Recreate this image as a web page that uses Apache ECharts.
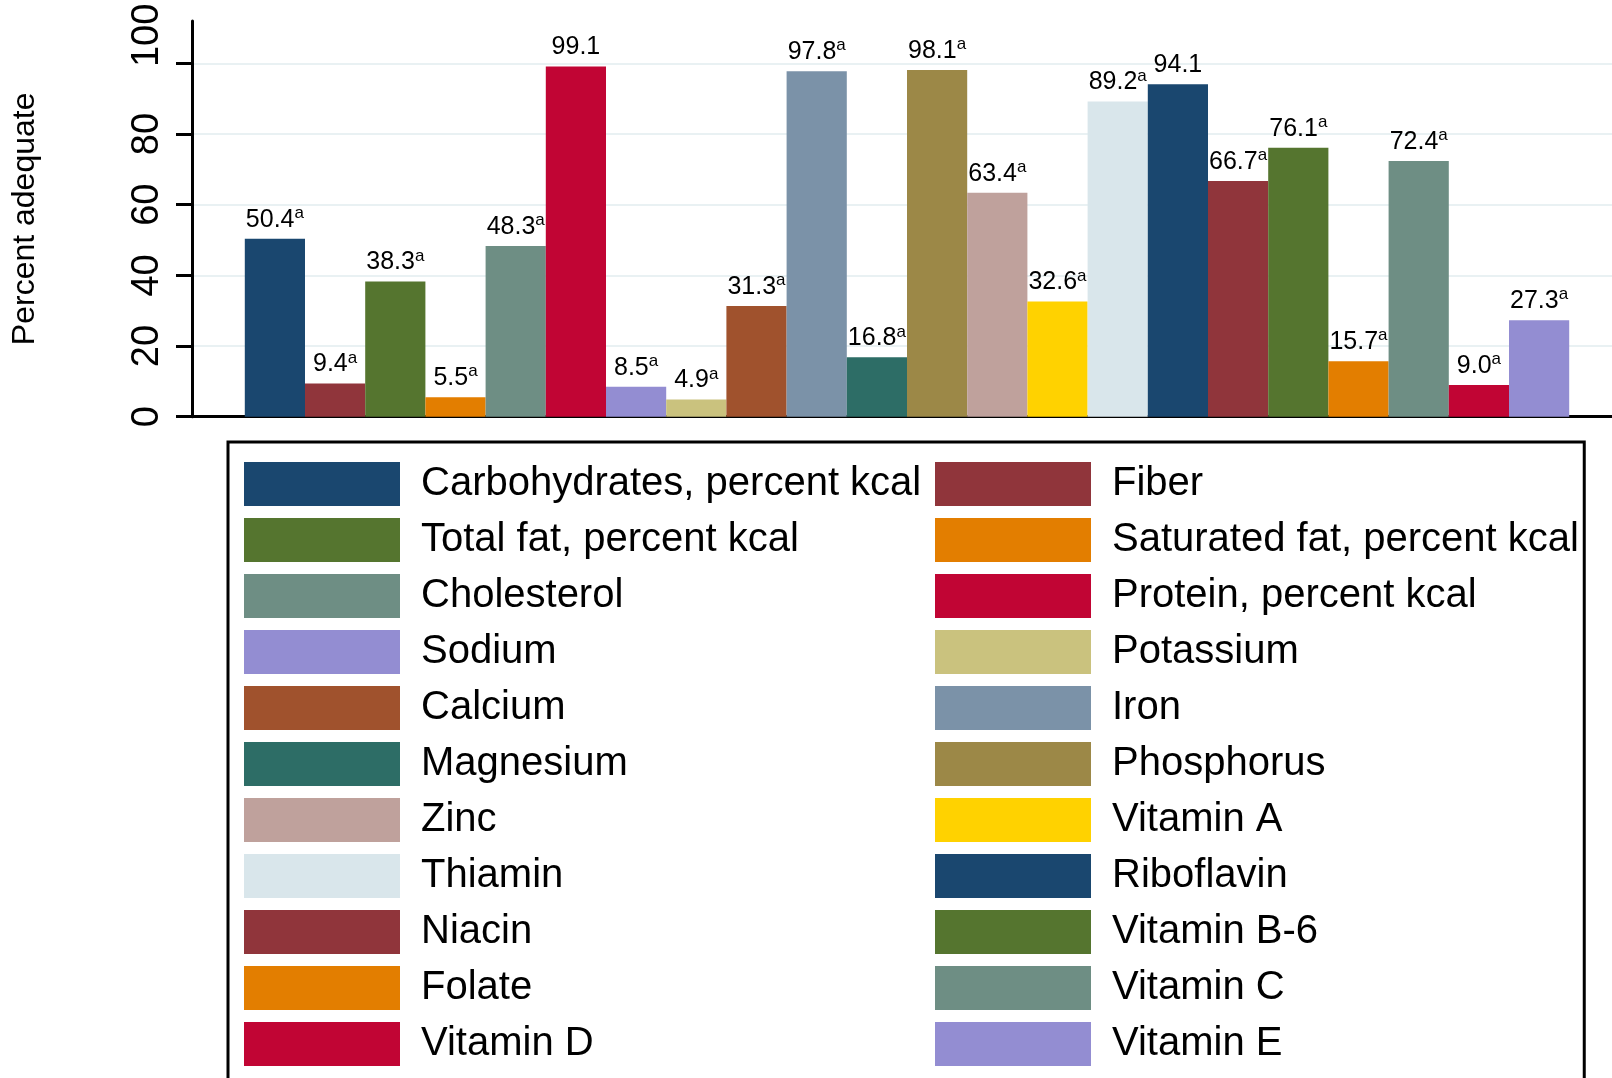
<!DOCTYPE html>
<html>
<head>
<meta charset="utf-8">
<script src="https://cdn.jsdelivr.net/npm/echarts@6/dist/echarts.min.js"></script>
<style>
  html, body { margin: 0; padding: 0; background: #fff; }
  #chart { width: 1612px; height: 1078px; }
</style>
</head>
<body>
<div id="chart"></div>
<script>
// nutrients, in bar order (left to right)
var nutrients = [
  'Carbohydrates, percent kcal', 'Fiber', 'Total fat, percent kcal',
  'Saturated fat, percent kcal', 'Cholesterol', 'Protein, percent kcal',
  'Sodium', 'Potassium', 'Calcium', 'Iron', 'Magnesium', 'Phosphorus',
  'Zinc', 'Vitamin A', 'Thiamin', 'Riboflavin', 'Niacin', 'Vitamin B-6',
  'Folate', 'Vitamin C', 'Vitamin D', 'Vitamin E'
];
var percentAdequate = [
  50.4, 9.4, 38.3, 5.5, 48.3, 99.1, 8.5, 4.9, 31.3, 97.8, 16.8,
  98.1, 63.4, 32.6, 89.2, 94.1, 66.7, 76.1, 15.7, 72.4, 9.0, 27.3
];
// superscript footnote on each label
var footnotes = [
  'a', 'a', 'a', 'a', 'a', '', 'a', 'a', 'a', 'a', 'a',
  'a', 'a', 'a', 'a', '', 'a', 'a', 'a', 'a', 'a', 'a'
];
var yTicks = [0, 20, 40, 60, 80, 100];

// stata s2color palette
var colors = [
  '#1a476f', '#90353b', '#55752f', '#e37e00', '#6e8e84', '#c10534',
  '#938dd2', '#cac27e', '#a0522d', '#7b92a8', '#2d6d66', '#9c8847',
  '#bfa19c', '#ffd200', '#d9e6eb',
  '#1a476f', '#90353b', '#55752f', '#e37e00', '#6e8e84', '#c10534', '#938dd2'
];

var font = 'Liberation Sans, Arial, Helvetica, sans-serif';
var chart = echarts.init(document.getElementById('chart'));

var series = nutrients.map(function (name, i) {
  return {
    type: 'bar',
    name: name,
    data: [percentAdequate[i]],
    barWidth: 60.2,
    barGap: '0%',
    itemStyle: { color: colors[i] },
    label: {
      show: true,
      position: 'top',
      distance: 4,
      fontFamily: font,
      formatter: function (p) {
        var t = '{v|' + p.value.toFixed(1) + '}';
        if (footnotes[i]) t += '{s|' + footnotes[i] + '}';
        return t;
      },
      rich: {
        v: { fontSize: 25, color: '#000', fontFamily: font, lineHeight: 30 },
        s: { fontSize: 17, color: '#000', fontFamily: font, verticalAlign: 'top', lineHeight: 17 }
      }
    }
  };
});

// legend in two columns, read row by row like the bars
var leftCol = nutrients.filter(function (n, i) { return i % 2 === 0; });
var rightCol = nutrients.filter(function (n, i) { return i % 2 === 1; });

var legendBase = {
  orient: 'vertical',
  top: 442,
  height: 900,
  icon: 'rect',
  itemWidth: 156,
  itemHeight: 44,
  itemGap: 12,
  selectedMode: false,
  textStyle: { fontSize: 40, color: '#000', fontFamily: font, padding: [6, 0, 0, 16] }
};

var option = {
  animation: false,
  backgroundColor: '#fff',
  grid: { left: 192, width: 1430, top: 21, bottom: 661.3, outerBoundsMode: 'none' },
  xAxis: {
    type: 'category',
    data: [''],
    axisLine: { lineStyle: { color: '#000', width: 3 } },
    axisTick: { show: false },
    axisLabel: { show: false }
  },
  yAxis: {
    type: 'value',
    min: 0,
    max: 112,
    name: 'Percent adequate',
    nameLocation: 'middle',
    nameRotate: 90,
    nameGap: 151,
    nameTextStyle: { fontSize: 32, color: '#000', fontFamily: font },
    axisLine: { show: true, lineStyle: { color: '#000', width: 3 } },
    axisTick: { show: true, length: 16, customValues: yTicks, lineStyle: { color: '#000', width: 3 } },
    axisLabel: {
      customValues: yTicks,
      rotate: 90,
      margin: 25,
      fontSize: 38,
      color: '#000',
      fontFamily: font,
      formatter: function (v) {
        return v === 100 ? '{top|' + v + '}' : '{n|' + v + '}';
      },
      rich: {
        n: { fontSize: 38, color: '#000', fontFamily: font },
        top: { fontSize: 38, color: '#000', fontFamily: font, padding: [0, 0, 0, 56] }
      }
    },
    splitLine: { show: true, lineStyle: { color: '#e9f1f3', width: 2 } }
  },
  legend: [
    Object.assign({}, legendBase, {
      data: leftCol,
      left: 228,
      padding: [20, 663, 20, 16],
      borderColor: '#000',
      borderWidth: 3
    }),
    Object.assign({}, legendBase, {
      data: rightCol,
      left: 935,
      padding: [20, 0, 20, 0]
    })
  ],
  series: series
};

chart.setOption(option);
</script>
</body>
</html>
